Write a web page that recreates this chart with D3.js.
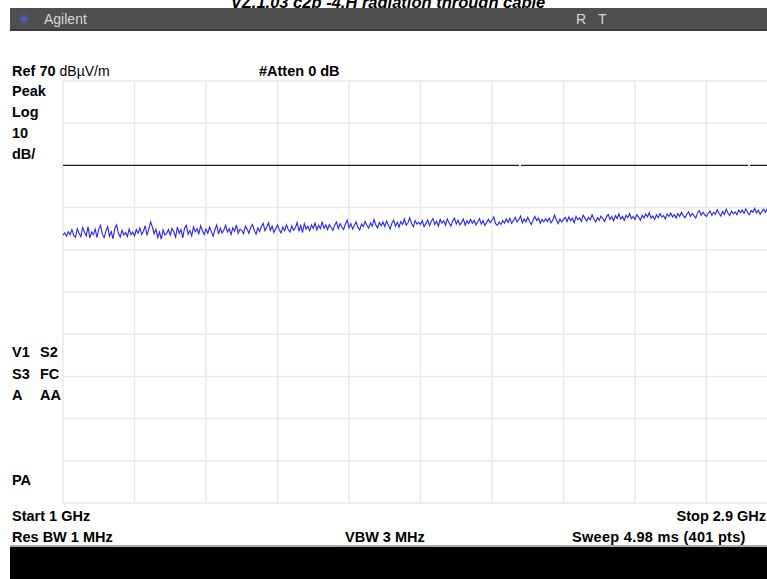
<!DOCTYPE html>
<html><head><meta charset="utf-8">
<script src="https://cdn.jsdelivr.net/npm/d3@7"></script>
<style>
body{margin:0;background:#fff;overflow:hidden}
svg{display:block}
.lbl{font-family:"Liberation Sans",Arial,sans-serif;font-weight:bold;font-size:14.5px;fill:#000}
</style></head><body>
<svg id="c" width="767" height="579"></svg>
<script>
const titleText = "VZ.1.03 c2p -4.H radiation through cable";
const startGHz = 1, stopGHz = 2.9;
const refLevel = 70, dbPerDiv = 10, numDivs = 10;
const displayLine = 50;
const leftLabels = ["Peak","Log","10","dB/"];
const statusCol1 = ["V1","S3","A"];
const statusCol2 = ["S2","FC","AA"];
const trace = [
33.5,34.0,33.2,34.3,33.6,34.8,33.4,33.0,35.0,33.9,33.1,35.3,34.2,33.3,35.5,32.8,34.2,33.6,34.9,32.9,
34.9,35.8,33.7,32.9,34.4,35.5,33.2,34.3,32.6,35.1,35.9,33.9,33.0,34.6,33.5,34.1,33.1,34.9,33.6,34.2,
33.3,34.8,33.9,35.2,33.6,34.4,35.7,33.4,34.9,36.6,35.4,33.8,34.9,32.9,34.2,32.5,34.7,33.5,33.9,34.8,
33.5,35.1,34.2,33.0,35.4,33.9,34.8,32.8,35.2,35.8,33.7,34.6,33.3,35.4,34.3,35.0,33.8,35.7,34.5,33.6,
34.9,33.9,35.4,34.3,33.2,34.8,35.9,33.7,35.1,34.0,34.7,35.8,34.2,35.0,33.6,35.2,34.4,35.9,33.9,34.9,
34.6,33.8,35.6,34.9,33.9,35.3,36.0,34.6,33.7,35.2,34.3,35.5,36.3,34.5,35.4,36.4,34.6,35.6,34.1,35.0,
35.9,34.7,34.0,35.4,34.5,35.9,34.8,34.2,35.7,34.6,35.2,36.5,34.4,35.8,34.1,36.2,34.9,35.6,34.5,35.9,
35.1,36.3,34.7,35.8,35.0,36.7,35.1,35.9,34.8,36.0,35.3,34.6,35.8,36.6,35.0,36.2,35.4,34.8,36.1,37.0,
35.2,36.2,34.9,35.8,36.6,35.3,34.7,36.1,35.5,36.7,35.8,35.1,36.4,35.6,37.2,35.9,35.2,36.5,35.7,36.6,
35.5,36.8,35.9,34.9,36.3,37.0,35.6,36.5,35.4,36.7,36.0,37.3,35.8,36.4,37.6,36.2,35.5,36.9,36.1,36.5,
36.0,36.9,35.5,36.2,37.1,35.7,36.7,37.4,36.0,36.8,35.6,37.2,36.3,36.9,35.8,37.3,36.4,35.6,36.8,37.5,
36.1,37.0,35.9,36.5,37.3,35.8,36.9,36.2,37.2,36.3,37.0,35.9,36.6,37.4,36.1,36.9,35.8,36.5,37.2,36.4,
37.0,37.8,36.2,35.8,36.6,36.0,36.9,36.3,37.3,36.5,37.5,36.3,36.9,37.7,36.6,37.2,38.0,36.4,37.3,36.6,
37.7,36.7,36.0,37.1,37.9,36.9,37.5,36.3,37.2,36.6,37.4,36.7,37.5,36.4,37.0,38.2,37.1,36.2,37.3,36.6,
37.2,37.7,36.7,37.8,36.9,37.5,36.4,37.9,37.1,37.6,36.7,38.2,37.5,36.8,37.7,37.1,38.3,37.3,36.6,37.6,
37.0,38.0,37.4,36.7,37.8,38.4,37.2,37.9,36.9,38.1,37.4,38.5,37.3,37.9,37.0,38.2,37.6,38.6,37.4,37.9,
37.2,38.3,37.7,37.0,38.2,37.5,38.5,37.8,38.8,37.5,38.0,37.2,38.3,37.6,38.6,37.8,38.1,37.3,38.5,37.9,
38.7,37.8,38.3,37.5,38.6,37.9,38.9,38.1,37.6,38.5,39.0,37.9,38.6,38.1,37.5,38.8,39.3,38.2,38.9,38.3,
37.9,38.7,39.2,38.2,38.9,38.4,39.5,38.6,38.0,39.1,38.4,39.6,38.7,38.1,39.2,38.5,39.0,38.3,39.4,38.8,
39.4,38.6,39.7,38.8,38.3,39.3,38.9,39.8,38.7,39.4,38.4,39.1,39.6,38.9,39.8,39.2,39.6,39.0,39.9,39.4,
39.6];

const svg = d3.select("#c");
const L = 63, R = 778, T = 81, B = 503;
const x = d3.scaleLinear().domain([startGHz, stopGHz]).range([L, R]);
const y = d3.scaleLinear().domain([refLevel - dbPerDiv*numDivs, refLevel]).range([B, T]);

// title (clipped by header bar)
svg.append("text").attr("x", 388).attr("y", 8).attr("text-anchor","middle")
  .style("font-family","Liberation Sans, Arial, sans-serif").style("font-weight","bold")
  .style("font-style","italic").style("font-size","16.5px").text(titleText);

// header bar
svg.append("rect").attr("x",10).attr("y",8).attr("width",757).attr("height",22).attr("fill","#4f4f4f");
svg.append("rect").attr("x",10).attr("y",29).attr("width",757).attr("height",2).attr("fill","#3a3a3a");
const star = svg.append("g").attr("transform","translate(24,19)");
for (let a=0;a<180;a+=45){
  star.append("line").attr("x1",-5).attr("x2",5).attr("y1",0).attr("y2",0)
    .attr("transform",`rotate(${a})`).attr("stroke","#5560ff").attr("stroke-width",0.9);
}
svg.append("text").attr("x",44).attr("y",24).style("font-family","Liberation Sans, Arial, sans-serif")
  .style("font-size","14px").attr("fill","#d8d8d8").text("Agilent");
svg.append("text").attr("x",576).attr("y",24).style("font-family","Liberation Sans, Arial, sans-serif")
  .style("font-size","14px").attr("fill","#d8d8d8").text("R");
svg.append("text").attr("x",598).attr("y",24).style("font-family","Liberation Sans, Arial, sans-serif")
  .style("font-size","14px").attr("fill","#d8d8d8").text("T");

// grid
svg.append("clipPath").attr("id","pc").append("rect").attr("x",0).attr("y",0).attr("width",767).attr("height",579);
const g = svg.append("g").attr("clip-path","url(#pc)");
const xt = d3.range(numDivs+1).map(i => startGHz + i*(stopGHz-startGHz)/numDivs);
const yt = d3.range(numDivs+1).map(i => refLevel - i*dbPerDiv);
g.selectAll(".vg").data(xt).enter().append("line")
  .attr("x1",d=>x(d)).attr("x2",d=>x(d)).attr("y1",T).attr("y2",B)
  .attr("stroke","#e9e9e9").attr("stroke-width",1.5);
g.selectAll(".hg").data(yt).enter().append("line")
  .attr("x1",L).attr("x2",R).attr("y1",d=>y(d)).attr("y2",d=>y(d))
  .attr("stroke","#e9e9e9").attr("stroke-width",1.5);

// display line
g.append("line").attr("x1",L).attr("x2",767).attr("y1",y(displayLine)).attr("y2",y(displayLine))
  .attr("stroke","#222").attr("stroke-width",1.2)
  .attr("stroke-dasharray",`${519-L},2,${748-521},2,100`);

// trace
const fx = d3.scaleLinear().domain([0, trace.length-1]).range([startGHz, stopGHz]);
g.append("path").datum(trace)
  .attr("d", d3.line().x((d,i)=>x(fx(i))).y(d=>y(d)))
  .attr("fill","none").attr("stroke","#2424ff").attr("stroke-width",1.1);

// labels
const ref = svg.append("text").attr("class","lbl").attr("x",12).attr("y",76);
ref.append("tspan").text("Ref " + refLevel + " ");
ref.append("tspan").style("font-weight","normal").style("font-size","14px").text("dBµV/m");
svg.append("text").attr("class","lbl").attr("x",259).attr("y",76).text("#Atten 0 dB");
svg.selectAll(".ll").data(leftLabels).enter().append("text").attr("class","lbl")
  .attr("x",12).attr("y",(d,i)=>96 + i*21).text(d=>d);
svg.selectAll(".s1").data(statusCol1).enter().append("text").attr("class","lbl")
  .attr("x",12).attr("y",(d,i)=>357 + i*21.5).text(d=>d);
svg.selectAll(".s2").data(statusCol2).enter().append("text").attr("class","lbl")
  .attr("x",40).attr("y",(d,i)=>357 + i*21.5).text(d=>d);
svg.append("text").attr("class","lbl").attr("x",12).attr("y",485).text("PA");
svg.append("text").attr("class","lbl").attr("x",12).attr("y",521).text("Start " + startGHz + " GHz");
svg.append("text").attr("class","lbl").attr("x",766).attr("y",521).attr("text-anchor","end").text("Stop " + stopGHz + " GHz");
svg.append("text").attr("class","lbl").attr("x",12).attr("y",542).text("Res BW 1 MHz");
svg.append("text").attr("class","lbl").attr("x",345).attr("y",542).text("VBW 3 MHz");
svg.append("text").attr("class","lbl").attr("x",572).attr("y",542).style("letter-spacing","0.3px").text("Sweep 4.98 ms (401 pts)");

// bottom bar
svg.append("rect").attr("x",10).attr("y",546).attr("width",757).attr("height",33).attr("fill","#000");
svg.append("rect").attr("x",10).attr("y",545).attr("width",757).attr("height",2).attr("fill","#aaa");
</script></body></html>
